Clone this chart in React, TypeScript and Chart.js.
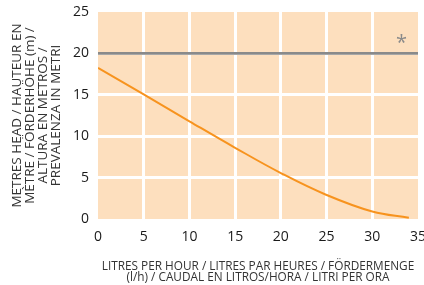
import React, { useEffect, useRef } from "react";
import { Chart, registerables } from "chart.js";

Chart.register(...registerables);

// Pump curve: flow (l/h) vs head (m)
const flowLph = [0, 5, 10, 15, 20, 25, 30, 34];
const headM = [18.25, 15.05, 11.8, 8.6, 5.55, 2.9, 0.9, 0.15];

// Maximum head reference line
const maxLineX = [0, 35];
const maxLineY = [20, 20];

// Asterisk annotation
const markerX = 33.2;
const markerY = 21.8;
const markerText = "*";

const xMin = 0;
const xMax = 35;
const xStep = 5;
const yMin = 0;
const yMax = 25;
const yStep = 5;

const yTitle = [
  "METRES HEAD / HAUTEUR EN",
  "MÈTRE / FÖRDERHÖHE (m) /",
  "ALTURA EN METROS /",
  "PREVALENZA IN METRI",
];
const xTitle = [
  "LITRES PER HOUR / LITRES PAR HEURES / FÖRDERMENGE",
  "(l/h) / CAUDAL EN LITROS/HORA / LITRI PER ORA",
];

const FONT = "'Open Sans', sans-serif";
const PEACH = "#fddfbe";
const ORANGE = "#f7931e";
const GRAY = "#8a8a8a";

export default function App() {
  const ref = useRef<HTMLCanvasElement | null>(null);

  useEffect(() => {
    if (!ref.current) return;

    const bgPlugin = {
      id: "bg",
      beforeDraw(chart: any) {
        const { ctx, chartArea } = chart;
        ctx.save();
        ctx.fillStyle = PEACH;
        ctx.fillRect(
          chartArea.left,
          chartArea.top,
          chartArea.right - chartArea.left,
          chartArea.bottom - chartArea.top
        );
        ctx.restore();
      },
    };

    const markerPlugin = {
      id: "marker",
      afterDatasetsDraw(chart: any) {
        const { ctx, scales } = chart;
        const px = scales.x.getPixelForValue(markerX);
        const py = scales.y.getPixelForValue(markerY);
        ctx.save();
        ctx.font = `20px ${FONT}`;
        ctx.fillStyle = GRAY;
        ctx.textAlign = "center";
        ctx.textBaseline = "alphabetic";
        const m = ctx.measureText(markerText);
        const asc = m.actualBoundingBoxAscent;
        const desc = m.actualBoundingBoxDescent;
        const baseline = py + (asc - desc) / 2;
        ctx.fillText(markerText, px, baseline);
        ctx.restore();
      },
    };

    const gridColor = (max: number) => (c: any) =>
      c.tick && (c.tick.value === 0 || c.tick.value === max)
        ? "rgba(0,0,0,0)"
        : "#ffffff";

    const chart = new Chart(ref.current, {
      type: "line",
      data: {
        datasets: [
          {
            data: maxLineX.map((x, i) => ({ x, y: maxLineY[i] })),
            borderColor: GRAY,
            borderWidth: 2.7,
            pointRadius: 0,
            fill: false,
          },
          {
            data: flowLph.map((x, i) => ({ x, y: headM[i] })),
            borderColor: ORANGE,
            borderWidth: 2,
            pointRadius: 0,
            fill: false,
            tension: 0.4,
          },
        ],
      },
      options: {
        responsive: false,
        animation: false,
        layout: { padding: { left: 0, right: 6, top: 12, bottom: 0 } },
        plugins: {
          legend: { display: false },
          tooltip: { enabled: false },
        },
        scales: {
          x: {
            type: "linear",
            min: xMin,
            max: xMax,
            border: { display: false },
            grid: {
              color: gridColor(xMax),
              lineWidth: 3,
              drawTicks: false,
            },
            ticks: {
              stepSize: xStep,
              padding: 10,
              color: "#1a1a1a",
              font: { family: FONT, size: 14 },
              maxRotation: 0,
            },
            title: {
              display: true,
              text: xTitle,
              color: "#333333",
              font: { family: FONT, size: 11.8, lineHeight: 1.0 },
              padding: { top: 0, bottom: 1 },
            },
            afterFit(scale: any) {
              scale.height = 66;
              scale.paddingLeft = 0;
              scale.paddingRight = 0;
            },
          },
          y: {
            type: "linear",
            min: yMin,
            max: yMax,
            border: { display: false },
            grid: {
              color: gridColor(yMax),
              lineWidth: 3,
              drawTicks: false,
            },
            ticks: {
              stepSize: yStep,
              padding: 9,
              color: "#1a1a1a",
              font: { family: FONT, size: 14 },
            },
            title: {
              display: true,
              text: yTitle,
              color: "#333333",
              font: { family: FONT, size: 13.5, lineHeight: 0.963 },
              padding: { top: 11, bottom: 0 },
            },
            afterFit(scale: any) {
              scale.width = 98;
              scale.paddingTop = 0;
              scale.paddingBottom = 0;
            },
          },
        },
      },
      plugins: [bgPlugin, markerPlugin],
    } as any);

    return () => chart.destroy();
  }, []);

  return (
    <div style={{ position: "absolute", left: 0, top: 0, width: 424, height: 285 }}>
      <canvas ref={ref} width={424} height={285} style={{ display: "block", width: 424, height: 285 }} />
    </div>
  );
}
